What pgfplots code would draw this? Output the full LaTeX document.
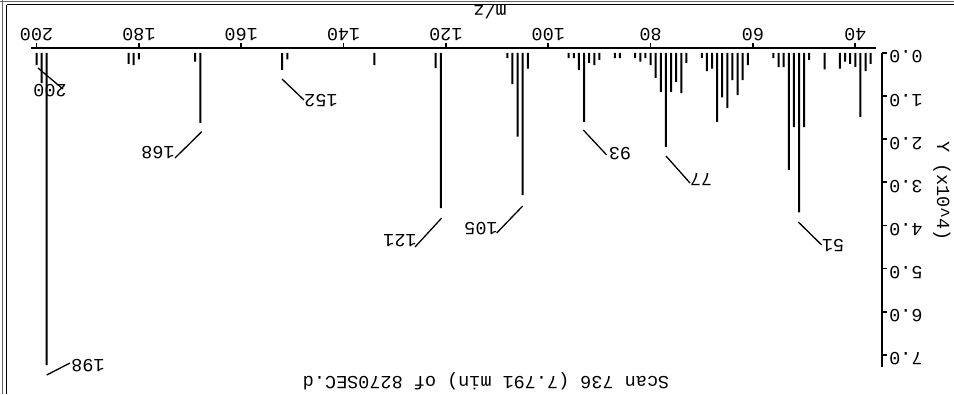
\documentclass[border=0pt]{standalone}
\usepackage{fontspec}
\setmainfont{Liberation Mono}
\usepackage{pgfplots}
\pgfplotsset{compat=1.18}
\usepackage{pgfplotstable}
\pgfplotstableread{
mz I
37 0.25
38 0.42
39 1.48
40 0.32
41 0.25
42 0.20
43 0.36
46 0.38
49 0.16
50 1.72
51 3.70
52 1.72
53 2.71
54 0.33
55 0.33
56 0.12
61 0.28
62 0.63
63 0.98
64 0.63
65 1.28
66 1.03
67 1.60
68 0.36
69 0.42
70 0.12
73 0.23
74 0.93
75 0.67
76 0.90
77 2.18
78 0.90
79 0.58
80 0.28
81 0.12
82 0.20
83 0.12
86 0.12
87 0.12
90 0.16
91 0.28
92 0.23
93 1.60
94 0.40
95 0.12
96 0.12
104 0.36
105 3.30
106 1.94
107 0.72
108 0.12
121 3.60
122 0.35
134 0.28
151 0.15
152 0.39
168 1.62
169 0.20
180 0.15
181 0.28
182 0.25
198 7.24
199 0.70
200 0.28
}\spectrum
\begin{document}
\fontsize{18.5}{22}\selectfont
\begin{tikzpicture}
\useasboundingbox (0,0) rectangle (954pt,-394pt);
\fill[white] (0,0) rectangle (954pt,-394pt);
% double frame (top and left)
\draw[line width=1.3pt, black!60] (0,-1.2pt) -- (954pt,-1.2pt);
\draw[line width=1.5pt] (6.5pt,-4.5pt) -- (954pt,-4.5pt);
\draw[line width=1.5pt, black!60] (2.5pt,0) -- (2.5pt,-394pt);
\draw[line width=1.5pt] (6.5pt,-4.5pt) -- (6.5pt,-394pt);
\begin{axis}[
  at={(456.5pt,-207.5pt)}, anchor=center,
  scale only axis, width=851pt, height=319pt,
  xmin=-201.075, xmax=-34.78, ymin=-7.285, ymax=0.116,
  axis x line*=top, axis y line*=right,
  axis line style={-, draw=none},
  tick align=outside, major tick length=5pt,
  every tick/.style={black, line width=1.8pt},
  xtick={-200,-180,-160,-140,-120,-100,-80,-60,-40},
  xticklabels={200,180,160,140,120,100,80,60,40},
  ytick={0,-1,-2,-3,-4,-5,-6,-7},
  yticklabels={0.0,1.0,2.0,3.0,4.0,5.0,6.0,7.0},
  xticklabel style={rotate=180, anchor=north, inner sep=2pt},
  yticklabel style={yshift=-4pt, rotate=180, anchor=east, inner sep=2pt},
  minor tick num=0,
  clip=false,
]
\addplot[ybar, bar width=2pt, fill=black, draw=none]
  table[x expr=-\thisrow{mz}, y expr=-\thisrow{I}] {\spectrum};
\end{axis}
% axis lines (separate, as in the reference)
\draw[line width=1.8pt] (31pt,-48pt) -- (876pt,-48pt);
\draw[line width=1.8pt] (882pt,-52.5pt) -- (882pt,-367pt);
% peak annotations (leaders and labels)
\draw[line width=1.3pt] (46.7pt,-375pt) -- (70pt,-363pt);
\node[rotate=180] at (88pt,-366pt) {198};
\draw[line width=1.3pt] (38pt,-68pt) -- (63pt,-89pt);
\node[rotate=180] at (50pt,-91pt) {200};
\draw[line width=1.3pt] (201.7pt,-131.7pt) -- (175pt,-158pt);
\node[rotate=180] at (158pt,-153pt) {168};
\draw[line width=1.3pt] (282pt,-79pt) -- (304pt,-100pt);
\node[rotate=180] at (321pt,-101pt) {152};
\draw[line width=1.3pt] (441.7pt,-218pt) -- (415pt,-247pt);
\node[rotate=180] at (400pt,-241pt) {121};
\draw[line width=1.3pt] (522.7pt,-206pt) -- (496.7pt,-233pt);
\node[rotate=180] at (481pt,-229pt) {105};
\draw[line width=1.3pt] (583.3pt,-130pt) -- (606.7pt,-155pt);
\node[rotate=180] at (620pt,-154pt) {93};
\draw[line width=1.3pt] (666pt,-156pt) -- (690pt,-183pt);
\node[rotate=180] at (701pt,-180pt) {77};
\draw[line width=1.3pt] (798.3pt,-222pt) -- (821.7pt,-245pt);
\node[rotate=180] at (833pt,-245pt) {51};
% titles
\node[rotate=180] at (490pt,-12pt) {m/z};
\node[rotate=180] at (486pt,-381pt) {Scan 736 (7.791 min) of 8270SEC.d};
\node[rotate=-90] at (942pt,-191pt) {Y (x10\textasciicircum 4)};
\end{tikzpicture}
\end{document}
